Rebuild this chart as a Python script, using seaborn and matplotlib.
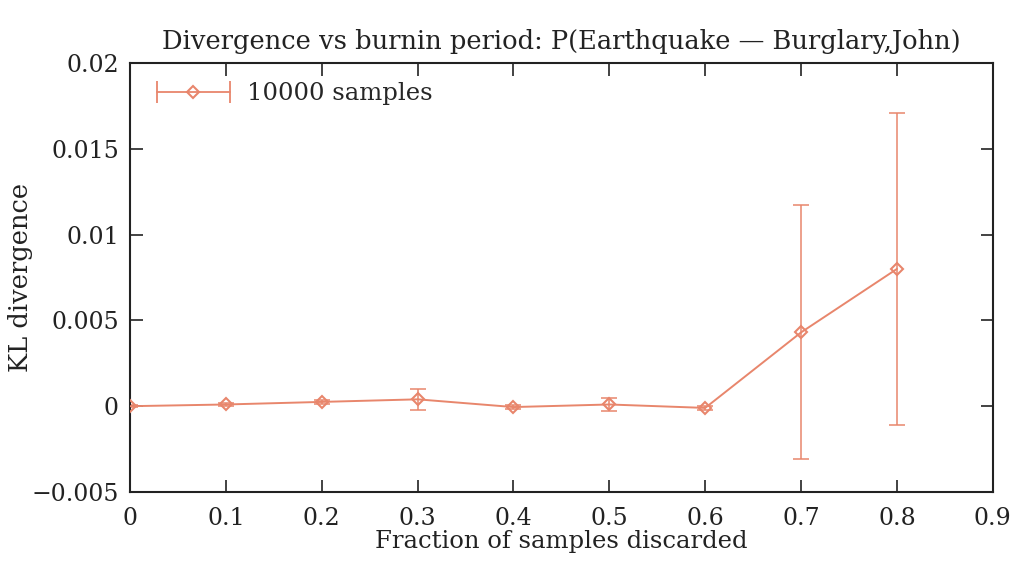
import numpy as np
import pandas as pd
import matplotlib
matplotlib.use("Agg")
import matplotlib.pyplot as plt
import seaborn as sns
from matplotlib.lines import Line2D
from matplotlib.legend_handler import HandlerLine2D, HandlerTuple

fraction = [0.0, 0.1, 0.2, 0.3, 0.4, 0.5, 0.6, 0.7, 0.8]
kl_mean = [0.0, 0.0001, 0.00025, 0.0004, -0.00005, 0.0001, -0.0001, 0.0043, 0.0080]
kl_err = [0.00005, 0.0001, 0.0001, 0.0006, 0.0001, 0.0004, 0.0001, 0.0074, 0.0091]
series_label = "10000 samples"

color = "#E8866C"
ink = "#222222"

sns.set_theme(style="ticks")
plt.rcParams["font.family"] = ["DejaVu Serif"]
plt.rcParams["mathtext.fontset"] = "dejavuserif"

df = pd.DataFrame({"fraction": fraction, "kl": kl_mean, "err": kl_err})

fig = plt.figure(figsize=(10.12, 5.61), dpi=100)
ax = fig.add_axes([0.1285, 0.123, 0.981 - 0.1285, 0.8877 - 0.123])

ax.errorbar(df["fraction"], df["kl"], yerr=df["err"], fmt="none",
            ecolor=color, elinewidth=1.1, capsize=6, capthick=1.1, zorder=2)
sns.lineplot(data=df, x="fraction", y="kl", ax=ax, color=color, lw=1.4,
             marker="D", markersize=6, markerfacecolor="none",
             markeredgecolor=color, markeredgewidth=1.5, zorder=3)

ax.set_xlim(0, 0.9)
ax.set_ylim(-0.005, 0.02)
ax.set_xticks(np.arange(0, 0.91, 0.1))
ax.set_xticklabels(["0", "0.1", "0.2", "0.3", "0.4", "0.5", "0.6", "0.7", "0.8", "0.9"])
ax.set_yticks([-0.005, 0, 0.005, 0.01, 0.015, 0.02])
ax.set_yticklabels(["\u22120.005", "0", "0.005", "0.01", "0.015", "0.02"])
ax.tick_params(direction="in", length=9, width=1.2, top=True, right=True,
               labelsize=17, colors=ink)
ax.tick_params(axis="x", pad=11)
ax.tick_params(axis="y", pad=8)
for s in ax.spines.values():
    s.set_linewidth(1.5)
    s.set_color(ink)

ax.set_xlabel("Fraction of samples discarded", fontsize=17.5, color=ink, labelpad=0)
ax.set_ylabel("KL divergence", fontsize=18.5, color=ink)
ax.yaxis.set_label_coords(-0.113, 0.5)
ax.set_title("Divergence vs burnin period: P(Earthquake \u2014 Burglary,John)",
             fontsize=18.5, color=ink, pad=10)

caps = Line2D([], [], color=color, lw=1.3, marker="|", markersize=16, markeredgewidth=1.3)
diam = Line2D([], [], color=color, lw=0, marker="D", markersize=6,
              markerfacecolor="none", markeredgecolor=color, markeredgewidth=1.5)
ax.legend([(caps, diam)], [series_label], loc="upper left", frameon=False,
          fontsize=17.5, handlelength=3.6, borderaxespad=0.4, borderpad=0.4,
          handletextpad=0.4,
          handler_map={tuple: HandlerTuple(ndivide=1), caps: HandlerLine2D(numpoints=2),
                       diam: HandlerLine2D(numpoints=1)})

fig.savefig("out.png", dpi=100)
